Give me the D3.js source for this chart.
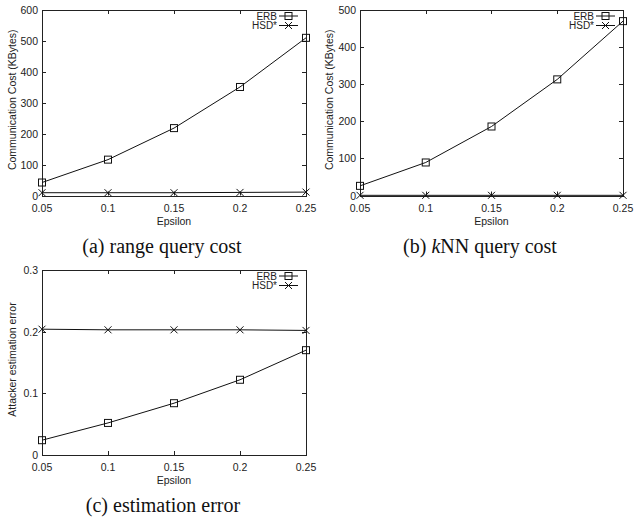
<!DOCTYPE html>
<html>
<head>
<meta charset="utf-8">
<script src="https://cdn.jsdelivr.net/npm/d3@7/dist/d3.min.js"></script>
<style>
  body { margin: 0; background: #fff; }
  svg { display: block; }
  .tick-label, .axis-title, .legend-text { font-family: "Liberation Sans", Arial, sans-serif; fill: #222; }
  .caption { font-family: "Liberation Serif", "Times New Roman", serif; fill: #111; }
</style>
</head>
<body>
<div id="chart"></div>
<script>
// x values shared by all three panels
var epsilon = [0.05, 0.1, 0.15, 0.2, 0.25];
var xTickLabels = ['0.05', '0.1', '0.15', '0.2', '0.25'];

// (a) range query cost, KBytes
var rangeErb = [42, 116, 218, 351, 510];
var rangeHsd = [9, 9, 9, 10, 11];
var rangeYTicks = [0, 100, 200, 300, 400, 500, 600];

// (b) kNN query cost, KBytes
var knnErb = [26, 89, 186, 313, 470];
var knnHsd = [0.5, 0.5, 0.5, 0.5, 0.5];
var knnYTicks = [0, 100, 200, 300, 400, 500];

// (c) attacker estimation error
var errErb = [0.024, 0.052, 0.084, 0.122, 0.170];
var errHsd = [0.204, 0.203, 0.203, 0.203, 0.202];
var errYTicks = [0, 0.1, 0.2, 0.3];
var errYTickLabels = ['0', '0.1', '0.2', '0.3'];

var seriesNames = ['ERB', 'HSD*'];

var svg = d3.select('#chart').append('svg')
    .attr('width', 635)
    .attr('height', 522);

/**
 * Draws one gnuplot-like panel
 */
var drawPanel = function(p) {
  var x = d3.scaleLinear().domain([0.05, 0.25]).range([p.left, p.right]);
  var y = d3.scaleLinear().domain([0, p.yMax]).range([p.bottom, p.top]);
  var g = svg.append('g');
  var tl = 4;

  // ticks, mirrored on all four sides
  p.yTicks.forEach(function(t, i) {
    var yy = Math.round(y(t)) + 0.5;
    if (i > 0 && i < p.yTicks.length - 1) {
      g.append('line').attr('x1', p.left).attr('x2', p.left + tl).attr('y1', yy).attr('y2', yy).attr('stroke', '#222');
      g.append('line').attr('x1', p.right).attr('x2', p.right - tl).attr('y1', yy).attr('y2', yy).attr('stroke', '#222');
    }
    g.append('text').attr('class', 'tick-label')
        .attr('x', p.left - 4).attr('y', y(t) + 4)
        .attr('text-anchor', 'end').attr('font-size', 10.5)
        .text(p.yTickLabels ? p.yTickLabels[i] : t);
  });
  epsilon.forEach(function(t, i) {
    var xx = Math.round(x(t)) + 0.5;
    if (i > 0 && i < epsilon.length - 1) {
      g.append('line').attr('x1', xx).attr('x2', xx).attr('y1', p.bottom).attr('y2', p.bottom - tl).attr('stroke', '#222');
      g.append('line').attr('x1', xx).attr('x2', xx).attr('y1', p.top).attr('y2', p.top + tl).attr('stroke', '#222');
    }
    g.append('text').attr('class', 'tick-label')
        .attr('x', x(t)).attr('y', p.bottom + 16)
        .attr('text-anchor', 'middle').attr('font-size', 10.5)
        .text(xTickLabels[i]);
  });

  // frame
  g.append('rect')
      .attr('x', Math.round(p.left) + 0.5).attr('y', Math.round(p.top) + 0.5)
      .attr('width', Math.round(p.right - p.left)).attr('height', Math.round(p.bottom - p.top))
      .attr('fill', 'none').attr('stroke', '#222');

  g.append('text').attr('class', 'axis-title')
      .attr('x', (p.left + p.right) / 2).attr('y', p.bottom + 29)
      .attr('text-anchor', 'middle').attr('font-size', 10.5)
      .text('Epsilon');

  g.append('text').attr('class', 'axis-title')
      .attr('transform', 'translate(' + p.yTitleX + ',' + ((p.top + p.bottom) / 2 - 3) + ') rotate(-90)')
      .attr('text-anchor', 'middle').attr('font-size', 10.5)
      .text(p.yTitle);

  var line = d3.line()
      .x(function(d, i) { return x(epsilon[i]); })
      .y(function(d) { return y(d); });

  var sq = 7, cr = 3.5;
  var drawSquare = function(sel, cx, cy) {
    sel.append('rect').attr('x', cx - sq / 2).attr('y', cy - sq / 2)
        .attr('width', sq).attr('height', sq)
        .attr('fill', 'none').attr('stroke', '#111').attr('stroke-width', 1);
  };
  var drawCross = function(sel, cx, cy) {
    sel.append('path')
        .attr('d', 'M' + (cx - cr) + ',' + (cy - cr) + 'L' + (cx + cr) + ',' + (cy + cr) +
                   'M' + (cx - cr) + ',' + (cy + cr) + 'L' + (cx + cr) + ',' + (cy - cr))
        .attr('stroke', '#111').attr('stroke-width', 1);
  };

  [p.erb, p.hsd].forEach(function(vals, k) {
    g.append('path').datum(vals).attr('d', line)
        .attr('fill', 'none').attr('stroke', '#111').attr('stroke-width', 1);
    vals.forEach(function(v, i) {
      if (k === 0) drawSquare(g, x(epsilon[i]), y(v));
      else drawCross(g, x(epsilon[i]), y(v));
    });
  });

  // legend
  seriesNames.forEach(function(name, k) {
    var ly = p.top + 6 + k * 9.5;
    var lx = p.right - 27;
    g.append('text').attr('class', 'legend-text')
        .attr('x', lx - 2).attr('y', ly + 3.5)
        .attr('text-anchor', 'end').attr('font-size', 10)
        .text(name);
    g.append('line').attr('x1', lx).attr('x2', lx + 19).attr('y1', ly).attr('y2', ly)
        .attr('stroke', '#111');
    if (k === 0) drawSquare(g, lx + 9.5, ly);
    else drawCross(g, lx + 9.5, ly);
  });

  var cap = g.append('text').attr('class', 'caption')
      .attr('x', p.capX).attr('y', p.bottom + 57)
      .attr('text-anchor', 'middle').attr('font-size', 20);
  p.caption.forEach(function(part) {
    cap.append('tspan').attr('font-style', part.italic ? 'italic' : 'normal').text(part.t);
  });
};

drawPanel({
  left: 42, right: 306, top: 10, bottom: 195.5, yMax: 600,
  yTicks: rangeYTicks, erb: rangeErb, hsd: rangeHsd,
  yTitle: 'Communication Cost (KBytes)', yTitleX: 16,
  capX: 162, caption: [{t: '(a) range query cost'}]
});

drawPanel({
  left: 360, right: 623, top: 10, bottom: 195.5, yMax: 500,
  yTicks: knnYTicks, erb: knnErb, hsd: knnHsd,
  yTitle: 'Communication Cost (KBytes)', yTitleX: 333,
  capX: 480, caption: [{t: '(b) '}, {t: 'k', italic: true}, {t: 'NN query cost'}]
});

drawPanel({
  left: 42, right: 306, top: 270, bottom: 455, yMax: 0.3,
  yTicks: errYTicks, yTickLabels: errYTickLabels, erb: errErb, hsd: errHsd,
  yTitle: 'Attacker estimation error', yTitleX: 16,
  capX: 163, caption: [{t: '(c) estimation error'}]
});
</script>
</body>
</html>
